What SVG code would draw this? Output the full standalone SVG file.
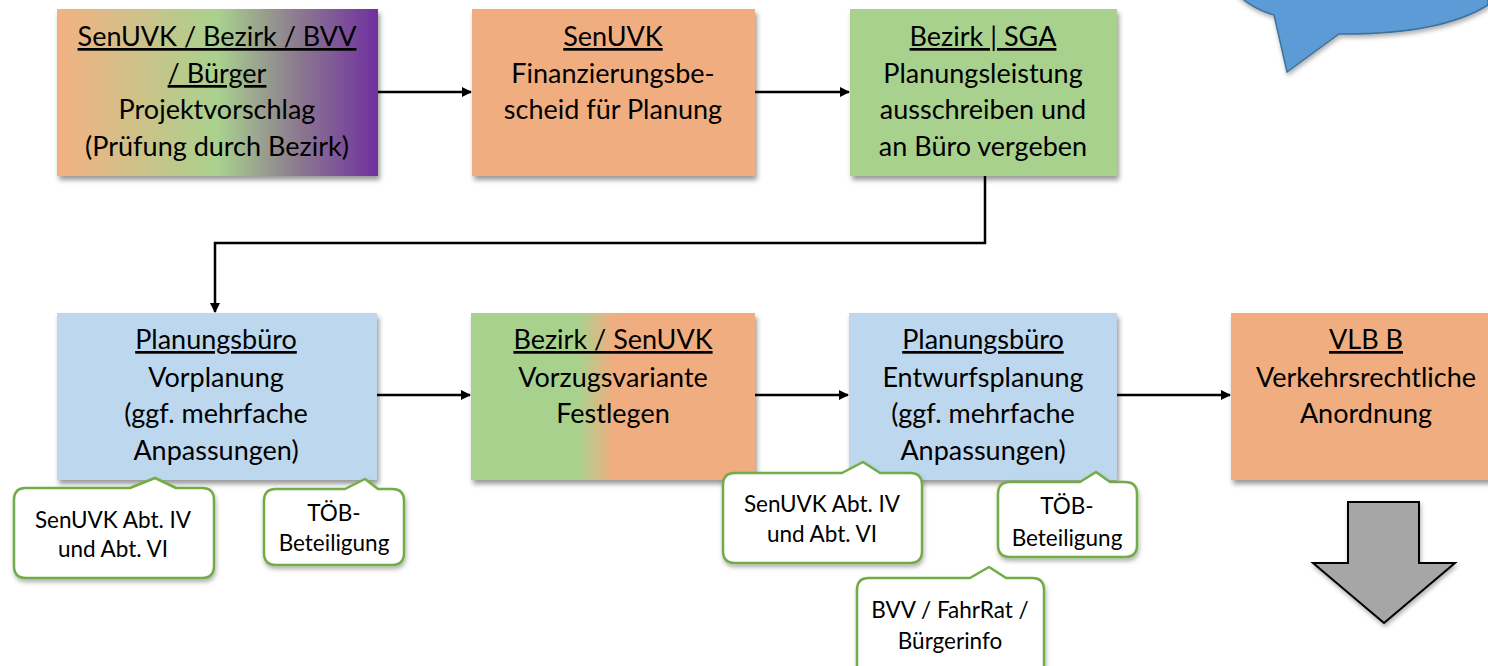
<svg xmlns="http://www.w3.org/2000/svg" width="1488" height="666" viewBox="0 0 1488 666">
<style>
.t{font-family:Lato,"Open Sans","Liberation Sans",sans-serif;font-size:27px;fill:#000;text-anchor:middle}
.u{text-decoration:underline}
.c{font-family:Lato,"Open Sans","Liberation Sans",sans-serif;font-size:22.5px;fill:#000;text-anchor:middle}
.box{filter:url(#sh)}
.call{fill:#fff;stroke:#70AD47;stroke-width:2.5;stroke-linejoin:round;filter:url(#sh2)}
.ln{fill:none;stroke:#000;stroke-width:2.5}
</style>
<defs>
<filter id="sh" x="-10%" y="-10%" width="130%" height="130%"><feDropShadow dx="2" dy="4" stdDeviation="2.5" flood-color="#000" flood-opacity="0.4"/></filter>
<filter id="sh2" x="-10%" y="-10%" width="130%" height="130%"><feDropShadow dx="1" dy="3" stdDeviation="2" flood-color="#000" flood-opacity="0.3"/></filter>
<linearGradient id="g1" x1="0" x2="1" y1="0" y2="0">
<stop offset="0" stop-color="#F4B183"/><stop offset="0.5" stop-color="#A9D18E"/><stop offset="0.75" stop-color="#8C7A8F"/><stop offset="1" stop-color="#7030A0"/>
</linearGradient>
<linearGradient id="g2" x1="0" x2="1" y1="0" y2="0">
<stop offset="0" stop-color="#A9D18E"/><stop offset="0.38" stop-color="#A9D18E"/><stop offset="0.5" stop-color="#F0AE80"/><stop offset="1" stop-color="#F0AE80"/>
</linearGradient>
<marker id="ar" markerWidth="10" markerHeight="10" refX="9" refY="5" orient="auto" markerUnits="userSpaceOnUse">
<path d="M0,0 L10,5 L0,10 z" fill="#000"/>
</marker>
</defs>

<g id="bubble">
<path d="M1274,15 Q1240,5 1228,-20 L1488,-20 L1488,5 Q1440,35 1339,34 L1287,72 Z" fill="#5B9BD5" stroke="#41719C" stroke-width="1.5" filter="url(#sh2)"/>
</g>

<g id="connectors">
<line class="ln" x1="378" y1="92" x2="471" y2="92" marker-end="url(#ar)"/>
<line class="ln" x1="755" y1="92" x2="849" y2="92" marker-end="url(#ar)"/>
<polyline class="ln" points="985,176 985,243 215,243 215,312" marker-end="url(#ar)"/>
<line class="ln" x1="377" y1="395" x2="470" y2="395" marker-end="url(#ar)"/>
<line class="ln" x1="755" y1="395" x2="848" y2="395" marker-end="url(#ar)"/>
<line class="ln" x1="1117" y1="395" x2="1230" y2="395" marker-end="url(#ar)"/>
</g>

<g id="n1">
<rect class="box" x="57" y="9" width="321" height="167" fill="url(#g1)"/>
<text class="t u" x="217" y="46">SenUVK / Bezirk / BVV</text>
<text class="t u" x="217" y="83">/ Bürger</text>
<text class="t" x="217" y="119">Projektvorschlag</text>
<text class="t" x="217" y="156">(Prüfung durch Bezirk)</text>
</g>
<g id="n2">
<rect class="box" x="472" y="9" width="283" height="167" fill="#F0AE80"/>
<text class="t u" x="613" y="46">SenUVK</text>
<text class="t" x="613" y="83">Finanzierungsbe-</text>
<text class="t" x="613" y="119">scheid für Planung</text>
</g>
<g id="n3">
<rect class="box" x="850" y="9" width="267" height="167" fill="#A9D18E"/>
<text class="t u" x="983" y="46">Bezirk | SGA</text>
<text class="t" x="983" y="83">Planungsleistung</text>
<text class="t" x="983" y="119">ausschreiben und</text>
<text class="t" x="983" y="156">an Büro vergeben</text>
</g>
<g id="n4">
<rect class="box" x="57" y="313" width="320" height="167" fill="#BDD7EE"/>
<text class="t u" x="216" y="349">Planungsbüro</text>
<text class="t" x="216" y="387">Vorplanung</text>
<text class="t" x="216" y="423">(ggf. mehrfache</text>
<text class="t" x="216" y="460">Anpassungen)</text>
</g>
<g id="n5">
<rect class="box" x="471" y="313" width="284" height="167" fill="url(#g2)"/>
<text class="t u" x="613" y="349">Bezirk / SenUVK</text>
<text class="t" x="613" y="387">Vorzugsvariante</text>
<text class="t" x="613" y="423">Festlegen</text>
</g>
<g id="n6">
<rect class="box" x="849" y="313" width="268" height="167" fill="#BDD7EE"/>
<text class="t u" x="983" y="349">Planungsbüro</text>
<text class="t" x="983" y="387">Entwurfsplanung</text>
<text class="t" x="983" y="423">(ggf. mehrfache</text>
<text class="t" x="983" y="460">Anpassungen)</text>
</g>
<g id="n7">
<rect class="box" x="1231" y="313" width="270" height="167" fill="#F0AE80"/>
<text class="t u" x="1366" y="349">VLB B</text>
<text class="t" x="1366" y="387">Verkehrsrechtliche</text>
<text class="t" x="1366" y="423">Anordnung</text>
</g>

<g id="c1">
<path class="call" d="M26,488 L130,488 L155,478 L176,488 L202,488 Q214,488 214,500 L214,566 Q214,578 202,578 L26,578 Q14,578 14,566 L14,500 Q14,488 26,488 Z"/>
<text class="c" x="113" y="528">SenUVK Abt. IV</text>
<text class="c" x="113" y="557">und Abt. VI</text>
</g>
<g id="c2">
<path class="call" d="M276,489 L345,489 L365,479 L378,489 L392,489 Q404,489 404,501 L404,553 Q404,565 392,565 L276,565 Q264,565 264,553 L264,501 Q264,489 276,489 Z"/>
<text class="c" x="334" y="521">TÖB-</text>
<text class="c" x="334" y="551">Beteiligung</text>
</g>
<g id="c3">
<path class="call" d="M735,473 L842,473 L863,462 L880,473 L910,473 Q922,473 922,485 L922,551 Q922,563 910,563 L735,563 Q723,563 723,551 L723,485 Q723,473 735,473 Z"/>
<text class="c" x="822" y="512">SenUVK Abt. IV</text>
<text class="c" x="822" y="542">und Abt. VI</text>
</g>
<g id="c4">
<path class="call" d="M1010,482 L1080,482 L1096,472 L1110,482 L1125,482 Q1137,482 1137,494 L1137,545 Q1137,557 1125,557 L1010,557 Q998,557 998,545 L998,494 Q998,482 1010,482 Z"/>
<text class="c" x="1067" y="514">TÖB-</text>
<text class="c" x="1067" y="546">Beteiligung</text>
</g>
<g id="c5">
<path class="call" d="M869,578 L970,578 L989,567 L1006,578 L1032,578 Q1044,578 1044,590 L1044,680 L857,680 L857,590 Q857,578 869,578 Z"/>
<text class="c" x="950" y="618">BVV / FahrRat /</text>
<text class="c" x="950" y="649">Bürgerinfo</text>
</g>

<g id="down">
<path d="M1348,502 L1419,502 L1419,563 L1455,563 L1384,623 L1313,563 L1348,563 Z" fill="#A6A6A6" stroke="#000" stroke-width="2" stroke-linejoin="miter" filter="url(#sh2)"/>
</g>
</svg>
